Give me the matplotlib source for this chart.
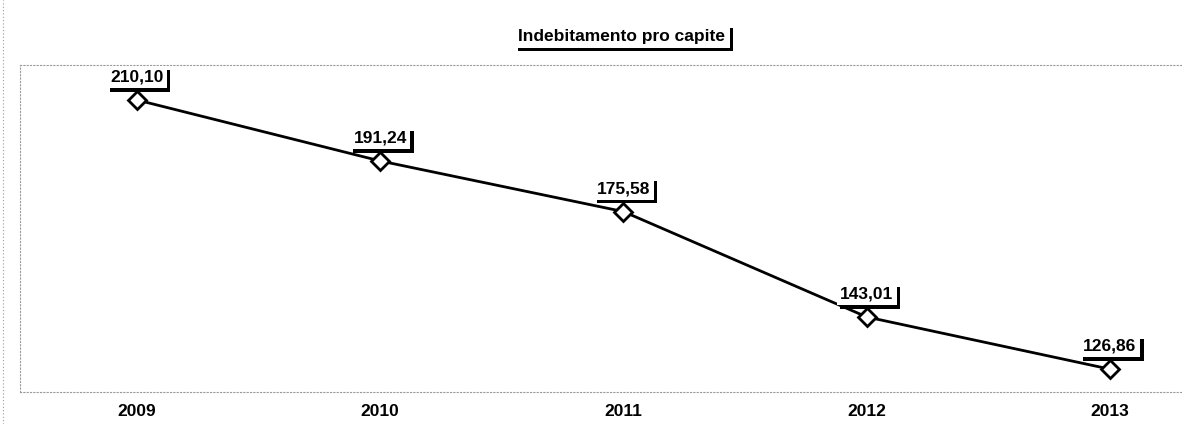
import matplotlib
matplotlib.use("Agg")
import matplotlib.pyplot as plt
import matplotlib.patheffects as pe

years = ["2009", "2010", "2011", "2012", "2013"]
values = [210.10, 191.24, 175.58, 143.01, 126.86]
labels = ["210,10", "191,24", "175,58", "143,01", "126,86"]
title = "Indebitamento pro capite"

plt.rcParams['font.family'] = ['Liberation Sans', 'DejaVu Sans']

fig = plt.figure(figsize=(11.82, 4.24), dpi=100)
ax = fig.add_axes([20/1182, 1-392/424, (1182-20)/1182, (392-65)/424])
x = list(range(len(years)))
ax.plot(x, values, color='black', lw=2.0, marker='D', markersize=9.5,
        markerfacecolor='white', markeredgecolor='black', markeredgewidth=2.0, zorder=3)
ax.set_xlim(-0.48, 4.296)
ax.set_ylim(119.8, 220.9)
ax.set_xticks(x)
ax.set_xticklabels(years, fontsize=12.5, fontweight='bold')
ax.tick_params(axis='x', length=0, pad=9)
ax.set_yticks([])
for s in ax.spines.values():
    s.set_linestyle((0, (1, 2)))
    s.set_color('#999999')
    s.set_linewidth(0.8)
ax.spines['right'].set_visible(False)

shadow = [pe.withSimplePatchShadow(offset=(2.5, -2.5), shadow_rgbFace='black', alpha=1.0), pe.Normal()]
for xi, v, lab in zip(x, values, labels):
    t = ax.annotate(lab, (xi, v), xytext=(0, 11), textcoords='offset points',
                    ha='center', va='bottom', fontsize=12.5, fontweight='bold',
                    bbox=dict(boxstyle='square,pad=0.2', fc='white', ec='none'), zorder=4)
    t.get_bbox_patch().set_path_effects(shadow)

tt = fig.text(622/1182, 1-36/424, title, ha='center', va='center', fontsize=12.5, fontweight='bold',
              bbox=dict(boxstyle='square,pad=0.25', fc='white', ec='none'))
tt.get_bbox_patch().set_path_effects(shadow)

# outer dotted frame line on left
fig.add_artist(plt.Line2D([3/1182, 3/1182], [0, 1], transform=fig.transFigure,
                          color='#999999', lw=0.8, ls=(0, (1, 2))))

fig.savefig("out.png", dpi=100)
